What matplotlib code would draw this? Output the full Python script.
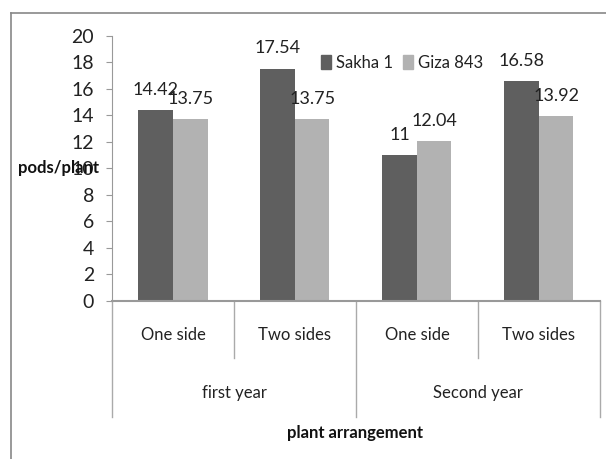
import matplotlib
matplotlib.use("Agg")
import matplotlib.pyplot as plt
from matplotlib.lines import Line2D
from matplotlib.patches import Patch

plt.rcParams["font.family"] = ["Lato", "DejaVu Sans"]

arrangements = ["One side", "Two sides", "One side", "Two sides"]
years = ["first year", "Second year"]
series_names = ["Sakha 1", "Giza 843"]
sakha = [14.42, 17.54, 11, 16.58]
giza = [13.75, 13.75, 12.04, 13.92]
colors = ["#5f5f5f", "#b2b2b2"]

fig = plt.figure(figsize=(6.06, 4.59), dpi=100)
ax = fig.add_axes([0.1848, 0.3449, 0.8052, 0.5767])

w = 0.283
centers = [i + 0.5 for i in range(len(arrangements))]
for k, (vals, col) in enumerate(zip([sakha, giza], colors)):
    xs = [c + (k - 0.5) * w for c in centers]
    ax.bar(xs, vals, width=w, color=col, zorder=2)
    for x, v in zip(xs, vals):
        ax.annotate(f"{v:g}", (x, v), xytext=(0, 14.5), textcoords="offset points",
                    ha="center", va="center", fontsize=13, color="#222222")

ax.set_xlim(0, len(arrangements))
ax.set_ylim(0, 20)
ax.set_yticks(range(0, 21, 2))
ax.set_xticks([])
ax.tick_params(axis="y", length=4, color="#999999", labelsize=14,
               labelcolor="#222222", pad=9)
for s in ["top", "right"]:
    ax.spines[s].set_visible(False)
ax.spines["left"].set_color("#999999")
ax.spines["bottom"].set_color("#999999")
ax.spines["bottom"].set_linewidth(1.5)

# multi-level category axis
tr = ax.get_xaxis_transform()
for i in range(len(arrangements) + 1):
    low = -0.439 if i % 2 == 0 else -0.2165
    ax.plot([i, i], [0, low], transform=tr, color="#aaaaaa", lw=1, clip_on=False)
for c, lab in zip(centers, arrangements):
    ax.text(c, -0.13, lab, transform=tr, ha="center", va="center",
            fontsize=12, color="#222222")
for j, yr in enumerate(years):
    ax.text(2 * j + 1, -0.349, yr, transform=tr, ha="center", va="center",
            fontsize=12, color="#222222")

fig.text(355 / 606, 1 - 433 / 459, "plant arrangement", ha="center", va="center",
         fontsize=12, fontweight="bold", color="#111111")
fig.text(58 / 606, 1 - 168 / 459, "pods/plant", ha="center", va="center",
         fontsize=12, fontweight="bold", color="#111111")

handles = [Patch(color=c) for c in colors]
fig.legend(handles, series_names, loc="center", bbox_to_anchor=(402 / 606, 1 - 63 / 459),
           ncol=2, frameon=False, fontsize=12, handlelength=0.6, handleheight=0.9,
           handletextpad=0.3, columnspacing=0.6, labelcolor="#222222")

# outer frame of the chart area
fig.add_artist(Line2D([11 / 606, 11 / 606], [0, 1 - 13 / 459], color="#888888", lw=1.2))
fig.add_artist(Line2D([11 / 606, 1], [1 - 13 / 459, 1 - 13 / 459], color="#888888", lw=1.2))

fig.savefig("out.png", dpi=100)
